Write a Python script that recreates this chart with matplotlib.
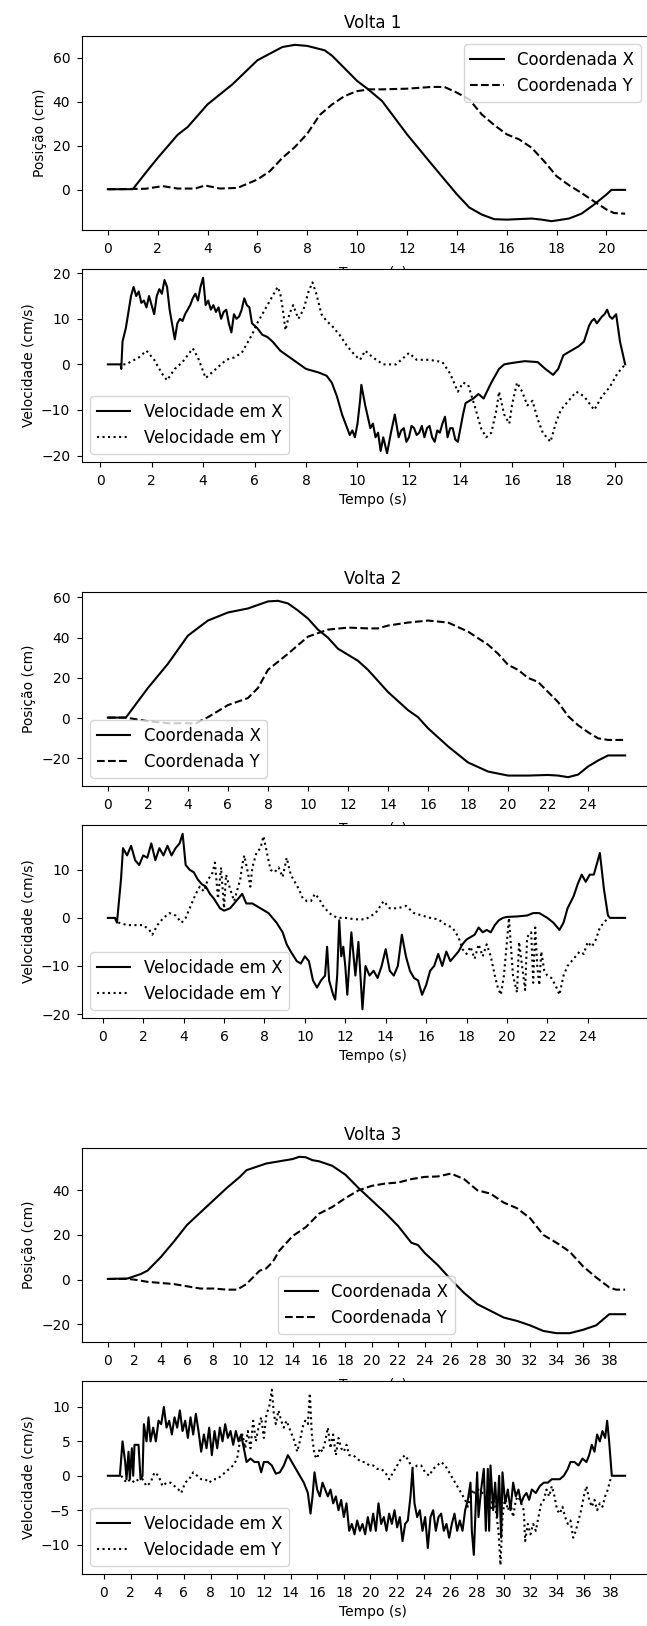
import numpy as np
import matplotlib
matplotlib.use("Agg")
import matplotlib.pyplot as plt

plt.rcParams["legend.fontsize"] = 12
plt.rcParams["xtick.major.pad"] = 5
plt.rcParams["ytick.major.pad"] = 5

# ---------------- Volta 1 ----------------
v1_pos_tx = [0, 1.0, 1.5, 2.0, 2.8, 3.2, 4.0, 5.0, 6.0, 7.0, 7.5, 8.0, 8.7, 9.0, 10.0, 10.4, 11.0,
             12.0, 13.0, 14.0, 14.5, 15.0, 15.5, 16.0, 17.0, 17.4, 17.8, 18.5, 19.0, 19.5, 20.0, 20.2, 20.75]
v1_pos_x = [0.3, 0.3, 7.5, 14.5, 25, 28.5, 38.8, 47.9, 58.8, 64.8, 65.8, 65.3, 63.3, 60.8, 49.4, 46, 40.3,
            25.2, 11.5, -2, -8, -11.2, -13.3, -13.5, -13, -13.5, -14.2, -13, -10.8, -6.7, -2.1, 0, 0]
v1_pos_ty = [0, 1.5, 2.2, 2.8, 3.5, 3.9, 4.5, 5.2, 6.0, 6.5, 7.0, 7.5, 8.0, 8.5, 9.0, 9.5, 10.0, 10.5, 11.0,
             12.0, 13.0, 13.5, 14.0, 14.5, 15.0, 15.5, 16.0, 16.5, 17.0, 17.5, 18.0, 18.5, 19.0, 19.5, 20.0, 20.3, 20.75]
v1_pos_y = [0.3, 0.5, 1.7, 0.6, 0.6, 2.0, 0.6, 0.9, 4.7, 8.5, 14.5, 19.4, 25.5, 34, 38.8, 42.6, 44.8, 45.6, 45.6,
            45.9, 46.7, 46.7, 44.1, 41.0, 34.2, 29.4, 25.2, 22.9, 19.1, 13.0, 6.2, 2.1, -1.4, -5.2, -8.9, -10.5, -10.8]

v1_vel_tx = [0.3, 0.8, 0.82, 0.87, 1.0, 1.2, 1.3, 1.4, 1.5, 1.6, 1.7, 1.8, 1.9, 2.0, 2.1, 2.2, 2.3, 2.4, 2.5, 2.6,
             2.7, 2.9, 3.0, 3.1, 3.2, 3.3, 3.4, 3.5, 3.6, 3.7, 3.8, 3.9, 4.0, 4.1, 4.2, 4.3, 4.4, 4.5, 4.6, 4.7,
             4.8, 4.9, 5.0, 5.1, 5.2, 5.3, 5.4, 5.5, 5.6, 5.7, 5.8, 5.9, 6.1, 6.3, 6.5, 6.7, 7.0, 7.5, 8.0, 8.5,
             8.8, 9.0, 9.2, 9.4, 9.5, 9.6, 9.7, 9.8, 9.9, 10.0, 10.1, 10.15, 10.3, 10.5, 10.6, 10.7, 10.8, 10.9,
             11.0, 11.15, 11.3, 11.45, 11.6, 11.7, 11.8, 11.9, 12.0, 12.1, 12.2, 12.3, 12.4, 12.5, 12.6, 12.7,
             12.8, 12.9, 13.0, 13.1, 13.2, 13.3, 13.4, 13.5, 13.6, 13.7, 13.8, 13.9, 14.1, 14.2, 14.5, 14.7,
             14.9, 15.2, 15.5, 15.7, 16.0, 16.5, 17.0, 17.3, 17.6, 17.8, 18.0, 18.3, 18.6, 18.8, 19.0, 19.1,
             19.2, 19.3, 19.5, 19.6, 19.7, 19.8, 19.9, 20.05, 20.2, 20.4]
v1_vel_x = [0, 0, -1, 5, 8, 15, 17, 15, 16, 13.5, 14, 12.5, 15, 13, 11, 15, 16.5, 15.5, 18.5, 17,
            12, 5.5, 9, 10, 9.5, 11, 12, 13, 14.5, 15.5, 14, 17, 19, 13, 14, 12, 13, 11.5, 12.5, 10,
            11.5, 12, 9, 7, 11, 10, 10.5, 12, 14.5, 13, 12.5, 9, 8, 6.5, 6, 5, 3, 1, -1, -1.8,
            -2.5, -4, -7, -11, -12.5, -14, -15.5, -14.5, -16, -13, -8, -4.5, -9, -14, -13, -16, -15, -19,
            -16, -19.5, -15, -11, -16, -14.5, -14, -17, -16, -13.5, -14, -15.5, -15, -13.5, -16, -14,
            -13.5, -16, -17, -14.5, -15, -13, -11.5, -16, -14, -14, -16.5, -17, -11, -8.5, -7.5, -6.5,
            -7.5, -4, -1, 0, 0.3, 0.7, 0.5, -1, -2.3, -1, 2, 3, 4, 5, 8.5, 9.5,
            10, 9, 10.5, 11, 12, 10.5, 10, 11, 5, 0]
v1_vel_ty = [0.9, 1.0, 1.5, 1.8, 2.1, 2.4, 2.6, 2.9, 3.2, 3.6, 3.8, 4.1, 4.5, 4.9, 5.2, 5.5, 5.7, 5.9, 6.1,
             6.4, 6.7, 6.9, 7.0, 7.1, 7.2, 7.35, 7.5, 7.7, 7.9, 8.1, 8.25, 8.4, 8.6, 8.8, 9.0, 9.3, 9.6, 9.9,
             10.1, 10.3, 10.6, 11.0, 11.5, 12.0, 12.3, 12.8, 13.3, 13.6, 13.9, 14.1, 14.3, 14.6, 14.8, 15.0,
             15.2, 15.4, 15.5, 15.7, 15.9, 16.0, 16.2, 16.4, 16.6, 16.8, 17.0, 17.2, 17.5, 17.7, 17.9, 18.2,
             18.5, 18.8, 19.0, 19.2, 19.5, 19.8, 20.1, 20.4]
v1_vel_y = [0, 0, 1.5, 3, 1, -2, -3.5, -1, 0.5, 3.5, 1.5, -3, -1, 1, 1.5, 2.5, 4.5, 6.5, 9,
            12, 15, 17, 15.5, 12, 7.5, 11, 13, 10, 12, 16, 18, 15.5, 11, 9.5, 8.5, 6.5, 4, 2,
            1, 3, 1.5, 0, 0, 2.5, 1, 1, 0.5, -2, -6, -4, -4.5, -10, -14, -16,
            -15, -10, -6, -11, -13, -9, -4, -6, -9, -8, -12, -15, -17, -13, -10, -8,
            -6, -7, -8.5, -10, -7, -5, -2, 0]

# ---------------- Volta 2 ----------------
v2_pos_tx = [0, 0.9, 2, 3, 4, 5, 6, 7, 8, 8.5, 9, 9.5, 10, 10.5, 11, 11.5, 12, 12.5, 13, 14, 15, 15.5,
             16, 17, 18, 19, 20, 21, 22, 22.5, 23, 23.5, 24, 24.5, 25, 25.85]
v2_pos_x = [0.3, 0.3, 15, 27, 41, 48.5, 52.5, 54.5, 58, 58.3, 57, 53.5, 49.5, 44, 40, 34.5, 31.5, 28.5, 24,
            13, 4, 0.5, -5, -14, -22, -26.5, -28.5, -28.5, -28.2, -28.5, -29.3, -28, -24, -21, -18.5, -18.5]
v2_pos_ty = [0, 0.9, 2, 3, 4, 4.4, 5, 6, 7, 7.5, 8, 9, 10, 11, 12, 13, 13.5, 14, 15, 16, 17, 18, 19,
             19.5, 20, 20.5, 21, 21.5, 22, 22.5, 23, 23.5, 24, 24.5, 25, 25.85]
v2_pos_y = [0.3, 0.3, -1.5, -2.5, -2.5, -2.5, 0.5, 6.5, 10, 15, 24, 32, 40.5, 44, 45, 44.6, 44.6, 46, 47.5,
            48.5, 47.5, 43, 36.5, 32, 26.5, 24, 20, 18, 13, 8, 1, -3.5, -7, -10, -10.8, -10.8]

v2_vel_tx = [0.25, 0.6, 0.7, 0.9, 1.0, 1.2, 1.4, 1.6, 1.8, 2.0, 2.2, 2.4, 2.6, 2.8, 3.0, 3.2, 3.4, 3.6,
             3.8, 3.95, 4.1, 4.3, 4.5, 4.7, 4.9, 5.1, 5.3, 5.5, 5.8, 6.0, 6.3, 6.6, 6.9, 7.1, 7.4, 7.8,
             8.2, 8.6, 8.9, 9.1, 9.3, 9.6, 9.8, 10.0, 10.2, 10.4, 10.6, 10.8, 11.0, 11.1, 11.2, 11.4,
             11.5, 11.6, 11.7, 11.8, 11.9, 12.0, 12.1, 12.3, 12.5, 12.65, 12.85, 13.0, 13.2, 13.4, 13.6,
             13.8, 14.0, 14.2, 14.4, 14.6, 14.8, 15.0, 15.2, 15.4, 15.6, 15.8, 16.0, 16.2, 16.4, 16.6,
             16.8, 17.0, 17.2, 17.4, 17.6, 17.8, 18.0, 18.2, 18.4, 18.6, 18.8, 19.0, 19.2, 19.4, 19.6,
             19.8, 20.0, 20.5, 21.0, 21.3, 21.6, 22.0, 22.3, 22.6, 22.8, 23.0, 23.3, 23.5, 23.7, 23.9,
             24.1, 24.3, 24.5, 24.6, 24.8, 25.0, 25.1, 25.85]
v2_vel_x = [0, 0, -1, 8, 14.5, 13, 15, 12, 11, 13, 12.5, 15.5, 12, 14.5, 13, 15, 13, 14.5,
            15.5, 17.5, 11, 10, 9.5, 8, 7, 6.5, 5, 4, 2, 1.5, 2, 3.5, 5, 3, 3, 2,
            1, -1, -3, -5.5, -7, -9, -9.5, -8, -9, -13, -14.5, -13, -12, -6, -13, -16,
            -17, -12, -0.5, -8, -6, -10, -16, -3, -12, -5, -19, -10, -12, -11, -12.5,
            -10, -6.5, -11, -12, -10, -3.5, -8, -11, -12.5, -13, -16, -14, -11, -10, -7.5,
            -10, -7, -9, -8, -7, -5.5, -4.5, -4, -3.5, -2, -3, -2.5, -3, -1.5, -0.5,
            0, 0.2, 0.3, 0.5, 1, 1, 0, -1, -2.5, -1, 2, 4.5, 7, 9, 7.5,
            9, 9, 12, 13.5, 6, 0.5, 0, 0]
v2_vel_ty = [0.6, 0.8, 1.2, 1.6, 2.0, 2.3, 2.45, 2.7, 3.0, 3.3, 3.6, 3.9, 4.1, 4.3, 4.6, 4.8, 5.0, 5.2,
             5.4, 5.55, 5.7, 5.85, 6.0, 6.1, 6.3, 6.5, 6.6, 6.8, 6.9, 7.0, 7.2, 7.3, 7.4, 7.6, 7.8, 7.95,
             8.1, 8.3, 8.5, 8.7, 8.9, 9.1, 9.3, 9.5, 9.7, 9.9, 10.1, 10.3, 10.5, 10.7, 10.9, 11.2, 11.6,
             12.0, 12.5, 13.0, 13.5, 13.9, 14.2, 14.6, 15.0, 15.4, 15.8, 16.2, 16.6, 17.0, 17.3, 17.6,
             17.8, 18.0, 18.2, 18.4, 18.6, 18.8, 19.0, 19.2, 19.4, 19.55, 19.7, 19.85, 20.0, 20.1, 20.3,
             20.5, 20.6, 20.75, 20.9, 21.0, 21.2, 21.3, 21.4, 21.5, 21.6, 21.7, 21.85, 22.0, 22.2, 22.4,
             22.6, 22.8, 23.0, 23.2, 23.4, 23.6, 23.8, 24.0, 24.2, 24.4, 24.6, 24.8, 25.0]
v2_vel_y = [0, -1, -1.5, -1.5, -1.5, -2.5, -3.5, -1.5, 0, 1, 0.5, -1, 0, 2, 5, 6.5, 5.5, 8,
            9, 11.5, 4, 10.5, 2, 9, 6, 3.5, 5, 8, 11, 13, 9, 6.5, 10.5, 13.5, 14.5, 17,
            14, 10, 9.5, 10.5, 8.5, 12.5, 9, 7.5, 6, 4, 3.5, 3.5, 5, 4, 2.5, 1, 0,
            0, -0.3, -0.3, 1, 3.5, 2, 2, 2.5, 1, 0.5, 0, -0.3, -1.5, -2, -4,
            -6.5, -7.5, -6, -8.5, -5.5, -8, -5.5, -8, -12, -14.5, -16, -12, -5, 0, -12,
            -15.5, -5, -10, -15, -4, -3, -13.5, -2, -10, -14, -7, -11, -12, -12.5, -14,
            -16, -12, -10, -9, -8, -7, -7.5, -5, -6, -4.5, -2, -1, 0]

# ---------------- Volta 3 ----------------
v3_pos_tx = [0, 1.5, 2, 2.5, 3, 3.5, 4, 5, 6, 7, 8, 9, 10, 10.5, 11, 12, 13, 14, 14.5, 15, 15.5, 16,
             17, 18, 19, 20, 21, 22, 23, 23.5, 24, 25, 26, 27, 28, 29, 30, 31, 32, 33, 34, 35, 36, 37,
             37.5, 38, 39.2]
v3_pos_x = [0.3, 0.5, 1.5, 2.5, 4, 7, 10, 17, 24.5, 30, 35.5, 41, 46, 49, 50, 52, 53, 54, 55, 54.8, 53.5,
            53, 51, 47, 41, 35.5, 30, 24, 16.5, 15.5, 12, 6.5, 0, -6, -11, -14, -17, -18.5, -20.5, -23,
            -24, -24, -22.5, -20.5, -18, -15.5, -15.5]
v3_pos_ty = [0, 1.5, 2, 3, 4, 5, 6, 7, 8, 9, 9.8, 10.5, 11, 11.5, 12, 12.5, 13, 14, 15, 16, 17, 18, 19,
             20, 21, 22, 23, 24, 25, 26, 27, 28, 29, 30, 31, 32, 33, 34, 35, 36, 37, 38, 38.5, 39.2]
v3_pos_y = [0.3, 0.3, 0, -1, -1.5, -2, -3, -4, -4, -4.5, -4.5, -2, 1, 4, 5, 8, 13, 19.5, 23.5, 29.5,
            32.5, 36.5, 40, 42, 43, 43.5, 45, 46, 46.2, 47.5, 45, 40, 38.5, 34.5, 32, 27.5, 20, 16.5,
            12.5, 6, 1, -3.5, -4.5, -4.5]

v3_vel_tx = [0.3, 1.2, 1.4, 1.6, 1.7, 1.85, 1.95, 2.1, 2.2, 2.3, 2.6, 2.75, 2.9, 3.0, 3.2, 3.35, 3.5,
             3.7, 3.9, 4.1, 4.3, 4.5, 4.7, 4.9, 5.1, 5.3, 5.5, 5.7, 5.9, 6.1, 6.3, 6.5, 6.7, 6.9, 7.1,
             7.3, 7.5, 7.7, 7.9, 8.1, 8.3, 8.5, 8.7, 8.9, 9.1, 9.3, 9.5, 9.7, 9.9, 10.1, 10.3, 10.5,
             10.7, 11.0, 11.3, 11.6, 11.8, 12.0, 12.3, 12.6, 12.9, 13.2, 13.5, 13.8, 14.1, 14.4, 14.7,
             15.0, 15.3, 15.5, 15.65, 15.8, 16.0, 16.2, 16.4, 16.6, 16.8, 17.0, 17.2, 17.4, 17.6, 17.8,
             18.0, 18.2, 18.4, 18.6, 18.8, 19.0, 19.2, 19.4, 19.6, 19.8, 20.0, 20.2, 20.4, 20.6, 20.8,
             21.0, 21.2, 21.4, 21.6, 21.8, 22.0, 22.2, 22.4, 22.6, 22.8, 23.0, 23.15, 23.3, 23.5, 23.7,
             23.9, 24.1, 24.3, 24.5, 24.7, 24.9, 25.1, 25.3, 25.5, 25.7, 25.9, 26.1, 26.3, 26.5, 26.7,
             26.9, 27.1, 27.3, 27.5, 27.6, 27.75, 27.9, 28.0, 28.1, 28.3, 28.5, 28.65, 28.8, 28.9, 29.0,
             29.2, 29.35, 29.5, 29.65, 29.8, 29.9, 30.1, 30.3, 30.5, 30.7, 30.9, 31.1, 31.3, 31.5, 31.7,
             31.9, 32.1, 32.4, 32.7, 33.0, 33.3, 33.6, 33.9, 34.2, 34.5, 34.8, 35.0, 35.3, 35.6, 35.9,
             36.2, 36.4, 36.6, 36.8, 37.0, 37.2, 37.4, 37.6, 37.75, 37.9, 38.1, 38.3, 39.1]
v3_vel_x = [0, 0, 5, 2, -0.5, 3.5, -0.5, 4, 0, 4.5, 4.5, -0.5, 0, 7.5, 5, 8.5, 5,
            7, 5, 8, 7.5, 10, 7, 8, 6, 8.5, 7, 9.5, 6.5, 8, 5.5, 8.5, 6, 9, 6.5,
            3.5, 6, 4, 7, 3, 6.5, 4, 7, 5, 7.5, 5.5, 6.5, 4.5, 6.5, 5, 6, 4,
            2, 2.5, 2, 2, 0.5, 2, 2, 1.5, 0.3, 0.5, 1.5, 3, 2, 1, 0,
            -1, -2.5, -5.5, -3, 0.5, -2, -3, -1, -2, -3, -2, -4, -3, -5, -3.5,
            -6, -4, -8, -7, -8.5, -6.5, -8, -7, -8.5, -6, -8, -5.5, -8, -4, -7,
            -6, -8, -5.5, -7, -5, -7.5, -6, -9.5, -7, -6.5, -3, 1, -4, -6, -5,
            -8, -6, -10.5, -6, -5, -8, -6, -5.5, -8, -7, -9, -7, -5.5, -8, -6.5,
            -8, -5, -3.5, -1, -8, -11.5, -4, 0.5, -6, -2, 1, -8, 1, -8, 1.5,
            -5, -1, -6, 0, -9, 0.5, -4, -2, -5, -1, -3, -2, -4, -3, -2.5,
            -3.5, -2, -2.5, -1.5, -1, -1, -0.5, -0.5, -0.5, 0, 1, 2, 2, 1.5, 2.5,
            2, 3, 4.5, 3.5, 6, 5, 6.5, 5.5, 8, 5, 0, 0, 0]
v3_vel_ty = [1.3, 1.5, 1.7, 2.0, 2.3, 2.6, 2.9, 3.2, 3.5, 3.8, 4.1, 4.4, 4.7, 5.0, 5.3, 5.6, 5.8, 6.1,
             6.4, 6.7, 7.0, 7.3, 7.6, 7.9, 8.2, 8.5, 8.8, 9.1, 9.4, 9.7, 10.0, 10.2, 10.4, 10.6, 10.8,
             11.0, 11.2, 11.4, 11.6, 11.8, 12.0, 12.2, 12.4, 12.6, 12.75, 12.9, 13.1, 13.3, 13.5, 13.7,
             13.9, 14.1, 14.3, 14.5, 14.7, 14.9, 15.1, 15.3, 15.45, 15.6, 15.8, 16.0, 16.2, 16.4, 16.6,
             16.8, 17.0, 17.2, 17.4, 17.6, 17.8, 18.0, 18.2, 18.4, 18.7, 19.0, 19.3, 19.6, 19.9, 20.2,
             20.5, 20.8, 21.1, 21.4, 21.7, 22.0, 22.3, 22.6, 22.9, 23.2, 23.5, 23.8, 24.1, 24.4, 24.7,
             25.0, 25.3, 25.6, 25.9, 26.2, 26.5, 26.8, 27.1, 27.3, 27.5, 27.7, 27.9, 28.1, 28.4, 28.7,
             29.0, 29.2, 29.4, 29.6, 29.75, 29.9, 30.1, 30.3, 30.5, 30.7, 30.9, 31.1, 31.3, 31.5, 31.6,
             31.8, 32.0, 32.2, 32.4, 32.6, 32.8, 33.0, 33.2, 33.4, 33.6, 33.8, 34.0, 34.2, 34.4, 34.6,
             34.8, 35.0, 35.2, 35.4, 35.6, 35.8, 36.0, 36.2, 36.4, 36.6, 36.8, 37.0, 37.2, 37.4, 37.6,
             37.8, 38.0]
v3_vel_y = [0, -0.5, -1, -0.5, -1, -0.5, -0.5, -1.5, -1, 0.5, 0, -1.5, -1, -1, -1.5, -2, -2.5, -1,
            -0.5, 0.5, 0, -0.5, -0.5, -1, -0.5, -0.5, 0, 0.5, 1, 1.5, 2.5, 5, 6, 4, 6.5,
            4, 8, 5, 7, 8.5, 5.5, 9, 10, 12.5, 9, 7.5, 9.5, 8, 7, 8,
            7, 6, 5, 3.5, 5, 7, 8, 7.5, 12, 6, 3, 2.5, 4, 3.5, 5,
            7, 4, 6, 3, 5.5, 4, 3.5, 4.5, 3, 3, 2.5, 2, 2, 1.5, 1.5,
            1, 1, 0.5, -0.5, 0.5, 1.5, 2.5, 3, 2, 1, 1.5, 1.5, 0.5, 0, 1,
            1.5, 2, 1.5, 0.5, -0.5, -1.5, -2.5, -3.5, -4.5, -3, -2, -3, -2, -2.5, -3,
            -5, -3, -5, -8, -13, -6, -3, -5, -4, -6, -3.5, -3, -4, -5, -9.5,
            -7, -8.5, -7, -8, -6, -4, -3.5, -2, -3, -1.5, -3, -5, -5.5, -4.5, -6,
            -7, -6.5, -9, -8, -6.5, -5, -3, -1.5, -3.5, -4.5, -3.5, -5, -4, -4.5, -3,
            -2, -0.5]

titles = ["Volta 1", "Volta 2", "Volta 3"]
pos_series = [(v1_pos_tx, v1_pos_x, v1_pos_ty, v1_pos_y),
              (v2_pos_tx, v2_pos_x, v2_pos_ty, v2_pos_y),
              (v3_pos_tx, v3_pos_x, v3_pos_ty, v3_pos_y)]
vel_series = [(v1_vel_tx, v1_vel_x, v1_vel_ty, v1_vel_y),
              (v2_vel_tx, v2_vel_x, v2_vel_ty, v2_vel_y),
              (v3_vel_tx, v3_vel_x, v3_vel_ty, v3_vel_y)]
tick_max = [20, 24, 38]
pos_legend_loc = ["upper right", "lower left", "lower center"]

W, H = 647, 1626
LEFT, WIDTH, EXTRA = 82, 569, 12  # axes run past the right edge of the image
fig = plt.figure(figsize=(W / 100, H / 100), dpi=100)


def rect(top, bottom):
    return [LEFT / W, 1 - bottom / H, (WIDTH + EXTRA) / W, (bottom - top) / H]


def stretch(ax):
    # keep the data scale of a WIDTH-px axes while the frame is wider
    lo, hi = ax.get_xlim()
    ax.set_xlim(lo, lo + (hi - lo) * (WIDTH + EXTRA) / WIDTH)


for i in range(3):
    off = 556 * i
    ax1 = fig.add_axes(rect(36 + off, 230 + off))
    tx, x, ty, y = pos_series[i]
    ax1.plot(tx, x, "k-", label="Coordenada X")
    ax1.plot(ty, y, "k--", label="Coordenada Y")
    ax1.set_title(titles[i])
    ax1.set_ylabel("Posição (cm)")
    # this label ends up half hidden under the velocity axes, as in the original
    ax1.set_xlabel("Tempo (s)", labelpad=7)
    ax1.set_xticks(np.arange(0, tick_max[i] + 1, 2))
    stretch(ax1)
    leg = ax1.legend(loc=pos_legend_loc[i])
    if pos_legend_loc[i] == "lower center":
        # centre on the visible part of the axes
        leg.set_bbox_to_anchor((0, 0, WIDTH / (WIDTH + EXTRA), 1), transform=ax1.transAxes)
    elif pos_legend_loc[i] == "upper right":
        leg.set_bbox_to_anchor((0, 0, (WIDTH - 2) / (WIDTH + EXTRA), 1), transform=ax1.transAxes)

    ax2 = fig.add_axes(rect(269 + off, 462 + off))
    tx, x, ty, y = vel_series[i]
    ax2.plot(tx, x, "k-", label="Velocidade em X")
    ax2.plot(ty, y, "k:", label="Velocidade em Y")
    ax2.set_ylabel("Velocidade (cm/s)")
    ax2.set_xlabel("Tempo (s)")
    ax2.set_xticks(np.arange(0, tick_max[i] + 1, 2))
    stretch(ax2)
    ax2.legend(loc="lower left")

fig.savefig("out.png", dpi=100)
